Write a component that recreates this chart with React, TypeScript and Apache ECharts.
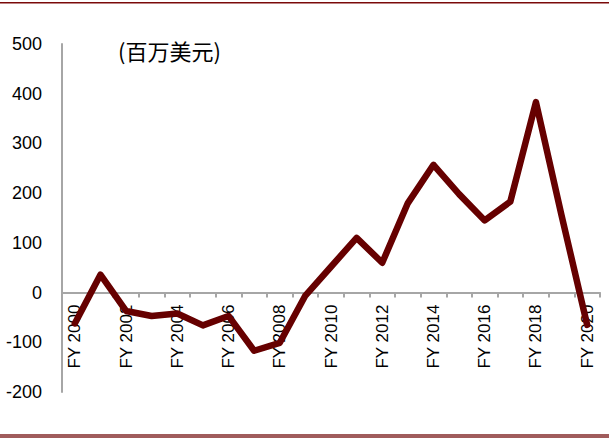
import React, { useEffect, useRef } from "react";
import * as echarts from "echarts";

const categories = [
  "FY 2000", "FY 2001", "FY 2002", "FY 2003", "FY 2004", "FY 2005", "FY 2006",
  "FY 2007", "FY 2008", "FY 2009", "FY 2010", "FY 2011", "FY 2012", "FY 2013",
  "FY 2014", "FY 2015", "FY 2016", "FY 2017", "FY 2018", "FY 2019", "FY 2020",
];
const values = [
  -62, 36, -37, -47, -42, -66, -47, -117, -101, -6, 52, 110, 60, 180, 257, 198,
  145, 183, 383, 155, -65,
];
const unitLabel = "(百万美元)";
const yMin = -200;
const yMax = 500;
const yInterval = 100;

const gridTop = 44;
const gridBottom = 46;
const chartH = 438;

export default function App() {
  const ref = useRef<HTMLDivElement>(null);
  useEffect(() => {
    if (!ref.current) return;
    const chart = echarts.init(ref.current, null, { renderer: "svg" });
    const plotH = chartH - gridTop - gridBottom;
    const zeroOffset = -(plotH * (0 - yMin)) / (yMax - yMin);
    chart.setOption({
      animation: false,
      backgroundColor: "#ffffff",
      grid: { left: 62, right: 9, top: gridTop, bottom: gridBottom, containLabel: false, outerBoundsMode: "none" },
      graphic: [
        { type: "rect", left: 0, top: 2, shape: { width: 609, height: 1.6 }, style: { fill: "#7a0a0a" } },
        { type: "rect", left: 0, top: 434, shape: { width: 609, height: 4 }, style: { fill: "#a05c5c" } },
        {
          type: "text",
          left: 118,
          top: 39,
          style: {
            text: unitLabel,
            font: '22px "Noto Sans CJK SC", sans-serif',
            fill: "#000000",
          },
        },
      ],
      xAxis: {
        type: "category",
        data: categories,
        boundaryGap: true,
        offset: zeroOffset,
        axisLine: { onZero: false, lineStyle: { color: "#a6a6a6", width: 2 } },
        axisTick: { show: true, interval: 0, length: 5, lineStyle: { color: "#a6a6a6", width: 2 } },
        axisLabel: {
          interval: 1,
          rotate: 90,
          margin: 12,
          color: "#000000",
          fontFamily: "Liberation Sans",
          fontSize: 17,
        },
        splitLine: { show: false },
      },
      yAxis: {
        type: "value",
        min: yMin,
        max: yMax,
        interval: yInterval,
        axisLine: { show: true, lineStyle: { color: "#a6a6a6", width: 2 } },
        axisTick: { show: false },
        axisLabel: {
          margin: 20,
          color: "#000000",
          fontFamily: "Liberation Sans",
          fontSize: 18,
        },
        splitLine: { show: false },
      },
      series: [
        {
          type: "line",
          data: values,
          symbol: "none",
          lineStyle: { color: "#660000", width: 6.5, cap: "round", join: "round" },
        },
      ],
    });
    return () => chart.dispose();
  }, []);
  return (
    <div
      ref={ref}
      style={{ position: "fixed", left: 0, top: 0, width: 609, height: 438, background: "#fff" }}
    />
  );
}
